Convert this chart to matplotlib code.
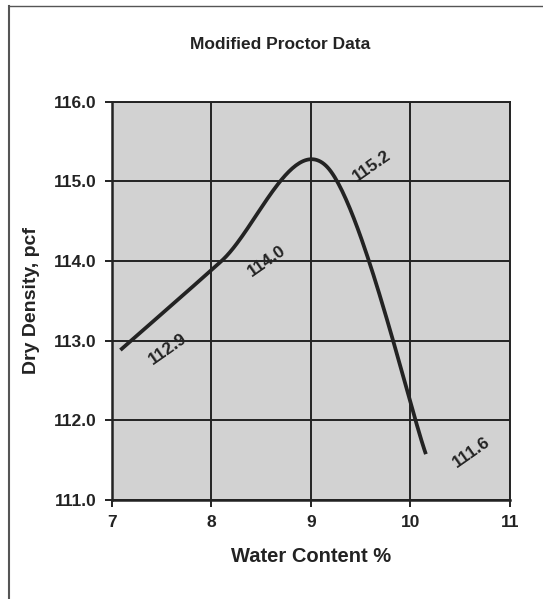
import numpy as np
import matplotlib
matplotlib.use("Agg")
import matplotlib.pyplot as plt
from matplotlib.lines import Line2D

# data
water = [7.1, 8.1, 9.15, 10.15]
density = [112.9, 114.0, 115.2, 111.6]
labels = ["112.9", "114.0", "115.2", "111.6"]
xticks = [7, 8, 9, 10, 11]
yticks = [111, 112, 113, 114, 115, 116]


def smooth(xs, ys, n=60):
    # excel style smoothed line: bezier segments with catmull-rom control points
    p = np.column_stack([xs, ys]).astype(float)
    out = []
    for i in range(len(p) - 1):
        p0 = p[i - 1] if i > 0 else p[i]
        p1 = p[i]
        p2 = p[i + 1]
        p3 = p[i + 2] if i + 2 < len(p) else p[i + 1]
        c1 = p1 + (p2 - p0) / 6
        c2 = p2 - (p3 - p1) / 6
        t = np.linspace(0, 1, n)[:, None]
        seg = (1 - t) ** 3 * p1 + 3 * (1 - t) ** 2 * t * c1 + 3 * (1 - t) * t ** 2 * c2 + t ** 3 * p2
        out.append(seg)
    out = np.vstack(out)
    return out[:, 0], out[:, 1]


plt.rcParams['font.family'] = ['Liberation Sans', 'DejaVu Sans']
ink = '#232323'

fig = plt.figure(figsize=(5.43, 5.99), dpi=100)
ax = fig.add_axes([0.206, 0.165, 0.733, 0.665])
ax.set_facecolor('#d2d2d2')

sx, sy = smooth(water, density)
ax.plot(sx, sy, color=ink, lw=2.7, zorder=3)

for x, y, s in zip(water, density, labels):
    ax.annotate(s, (x, y), xytext=(33, 0), textcoords='offset points',
                ha='center', va='center', rotation=35, fontsize=12.5,
                fontweight='bold', color=ink, zorder=4)

ax.set_xlim(7, 11)
ax.set_ylim(111, 116)
ax.set_xticks(xticks)
ax.set_yticks(yticks)
ax.set_xticklabels([str(v) for v in xticks])
ax.set_yticklabels(["%.1f" % v for v in yticks])
ax.grid(True, color=ink, lw=1.4, zorder=1)
ax.set_axisbelow(True)
ax.tick_params(direction='out', length=5, width=1.4, color=ink,
               labelsize=12.5, labelcolor=ink, pad=6)
for lab in ax.get_xticklabels() + ax.get_yticklabels():
    lab.set_fontweight('bold')
for sp in ax.spines.values():
    sp.set_color(ink)
    sp.set_linewidth(1.4)
ax.spines['left'].set_linewidth(1.8)
ax.spines['bottom'].set_linewidth(1.8)

ax.set_xlabel("Water Content %", fontsize=14.5, fontweight='bold', color=ink, labelpad=12)
ax.set_ylabel("Dry Density, pcf", fontsize=14, fontweight='bold', color=ink, labelpad=10)
fig.text(0.515, 0.925, "Modified Proctor Data", ha='center', va='center',
         fontsize=12.5, fontweight='bold', color=ink)

# outer frame of the scanned chart
fig.add_artist(Line2D([0.017, 0.017], [0.0, 0.99], color='#555555', lw=1.5))
fig.add_artist(Line2D([0.017, 1.0], [0.99, 0.99], color='#555555', lw=1.0))

fig.savefig("out.png", dpi=100)
